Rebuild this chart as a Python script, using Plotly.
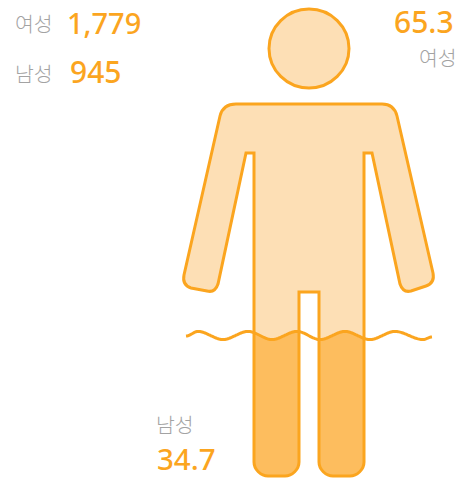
import math
import plotly.graph_objects as go

# Data
genders = ["여성", "남성"]
counts = ["1,779", "945"]
shares = ["65.3", "34.7"]

# Pictogram geometry in page pixels (decorative figure)
W, H = 461, 479
ORANGE = "#FBA51F"
LIGHT = "#FDDFB5"
MID = "#FDBD5E"
GREY = "#A3A3A3"

R = 14
K = 0.45 * R


def foot(x0, x1, bottom=476):
    """Path section for a leg bottom going right-to-left, from (x1, up) to (x0, up)."""
    return (f"L{x1},{bottom-R} C{x1},{bottom-R+K+1} {x1-R+K+1},{bottom} {x1-R},{bottom} "
            f"L{x0+R},{bottom} C{x0+R-K-1},{bottom} {x0},{bottom-R+K+1} {x0},{bottom-R} ")


BODY = ("M236,104 L382,104 Q394,104 397,116 L433,273 Q435,283 426,286 L411,291 "
        "Q403,293 400,284 L372,153 L364,153 " + foot(319, 364) +
        "L319,292 L299,292 " + foot(254, 299) +
        "L254,153 L246,153 L218,284 Q215,293 207,291 L191,288 "
        "Q182,285 184,275 L220,116 Q223,104 236,104 Z")

wave_x = [186, 198, 223, 248, 272, 297, 320, 345, 370, 395, 423, 432]
wave_y = [336, 331.5, 339.5, 331.5, 339.5, 331.5, 339.5, 331.5, 339.5, 331.5, 339.5, 337]


def wave_at(x):
    for i in range(len(wave_x) - 1):
        x0, x1 = wave_x[i], wave_x[i + 1]
        if x0 <= x <= x1:
            t = (x - x0) / (x1 - x0)
            s = (1 - math.cos(math.pi * t)) / 2
            return wave_y[i] + (wave_y[i + 1] - wave_y[i]) * s
    return wave_y[-1]


def wave_path(x0, x1, step=1.0):
    pts = []
    x = x0
    while x < x1:
        pts.append((x, wave_at(x)))
        x += step
    pts.append((x1, wave_at(x1)))
    return pts


def leg_path(x0, x1):
    top = wave_path(x0, x1)
    d = "M" + " L".join(f"{a:.1f},{b:.1f}" for a, b in top)
    return d + " " + foot(x0, x1) + "Z"


wave_d = "M" + " L".join(f"{a:.1f},{b:.1f}" for a, b in wave_path(186, 432))

shapes = [
    dict(type="circle", x0=269, x1=349, y0=9, y1=88,
         fillcolor=LIGHT, line=dict(color=ORANGE, width=3)),
    dict(type="path", path=BODY, fillcolor=LIGHT, line=dict(width=0)),
    dict(type="path", path=leg_path(254, 299), fillcolor=MID, line=dict(width=0)),
    dict(type="path", path=leg_path(319, 364), fillcolor=MID, line=dict(width=0)),
    dict(type="path", path=BODY, line=dict(color=ORANGE, width=3)),
    dict(type="path", path=wave_d, line=dict(color=ORANGE, width=3)),
]

KR = "Noto Sans CJK KR"
NUM = "Noto Sans"


def txt(s, x, y, font, size, color, anchor="left", weight=400):
    return dict(text=s, x=x, y=y, xref="x", yref="y", showarrow=False,
                xanchor=anchor, yanchor="middle",
                font=dict(family=font, size=size, color=color, weight=weight),
                borderpad=0, borderwidth=0)


annotations = [
    txt(genders[0], 15, 23, KR, 20.5, GREY, weight=300),
    txt(counts[0], 67, 22, NUM, 29, ORANGE, weight=500),
    txt(genders[1], 15, 73, KR, 20.5, GREY, weight=300),
    txt(counts[1], 70, 71, NUM, 30, ORANGE, weight=500),
    txt(shares[0], 454, 21, NUM, 30, ORANGE, "right", weight=500),
    txt(genders[0], 457, 57, KR, 20.5, GREY, "right", weight=300),
    txt(genders[1], 156, 424, KR, 20.5, GREY, weight=300),
    txt(shares[1], 157, 458.5, NUM, 29.5, ORANGE, weight=500),
]

fig = go.Figure()
fig.update_layout(
    width=W, height=H, autosize=False,
    margin=dict(l=0, r=0, t=0, b=0),
    paper_bgcolor="white", plot_bgcolor="white",
    xaxis=dict(range=[0, W], visible=False, fixedrange=True),
    yaxis=dict(range=[H, 0], visible=False, fixedrange=True),
    shapes=shapes, annotations=annotations, showlegend=False,
)
fig.write_html("out.html", config=dict(displayModeBar=False),
               post_script="document.body.style.margin='0';document.body.style.overflow='hidden';")
